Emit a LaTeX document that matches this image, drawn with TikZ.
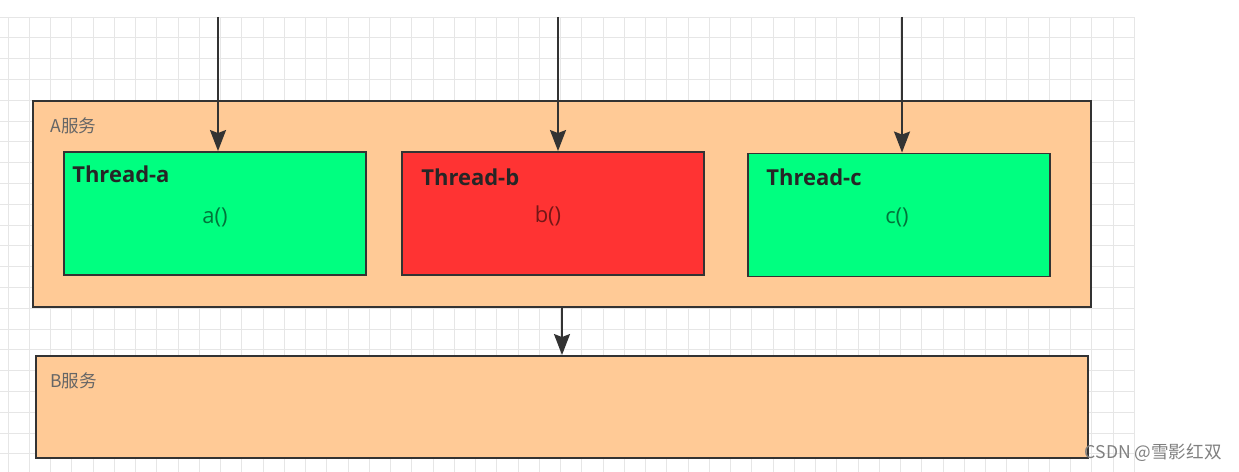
\documentclass[tikz,border=0pt]{standalone}
\usepackage{fontspec}
\setmainfont{Open Sans}
\newfontfamily\cjk{Noto Sans CJK SC}
\usetikzlibrary{arrows.meta}
\definecolor{peach}{HTML}{FFCA96}
\definecolor{threadgreen}{HTML}{00FF80}
\definecolor{threadred}{HTML}{FF3333}
\definecolor{edge}{HTML}{333333}
\definecolor{gridgray}{HTML}{E6E6E6}

\begin{document}
\begin{tikzpicture}[
    x=0.02cm, y=-0.02cm,
    service/.style={draw=edge, fill=peach, line width=1.1pt, inner sep=0pt},
    thread/.style={draw=edge, line width=1.1pt, minimum width=6.04cm, minimum height=2.46cm, inner sep=0pt},
    title/.style={anchor=base west, inner sep=0pt, font=\bfseries\fontsize{12.5}{14}\selectfont, text=black!85},
    call/.style={font=\fontsize{12.5}{14}\selectfont, text=black, text opacity=0.55},
    tag/.style={anchor=west, inner sep=0pt, font=\cjk\fontsize{10}{12}\selectfont, text=black!60},
    flow/.style={-{Stealth[length=4.2mm, width=3.2mm, inset=0.6mm]}, draw=edge, line width=1.1pt}
]
\useasboundingbox (0,0) rectangle (1239,472);

% background grid
\foreach \gx in {0,...,53}
  \draw[gridgray, line width=0.5pt] ({8+21.25*\gx},17) -- ({8+21.25*\gx},472);
\foreach \gy in {0,...,21}
  \draw[gridgray, line width=0.5pt] (0,{17+20.8*\gy}) -- (1135,{17+20.8*\gy});

% A service
\node[service, minimum width=21.16cm, minimum height=4.12cm] (asvc) at (562,204) {};
\node[tag] (alab) at (50,126) {A服务};

\node[thread, fill=threadgreen] (ta) at (215,213.5) {};
\node[thread, fill=threadred] (tb) at (553,213.5) {};
\node[thread, fill=threadgreen] (tc) at (899,215) {};

\node[title] (tatitle) at (72,183) {Thread-a};
\node[title] (tbtitle) at (421,186) {Thread-b};
\node[title] (tctitle) at (766,186) {Thread-c};

\node[call] (tacall) at (215,217) {a()};
\node[call] (tbcall) at (548,216) {b()};
\node[call] (tccall) at (897,217) {c()};

% B service
\node[service, minimum width=21.04cm, minimum height=2.04cm] (bsvc) at (562,407) {};
\node[tag] (blab) at (50,381) {B服务};

% incoming requests
\coordinate (ina) at (218,17);
\coordinate (inb) at (558,17);
\coordinate (inc) at (902,17);
\foreach \src/\dst in {ina/ta, inb/tb, inc/tc}
  \draw[flow] (\src) -- (\src |- \dst.north);
\draw[flow] (asvc.south) -- (bsvc.north);

\node[anchor=east, inner sep=0pt, font=\cjk\fontsize{10}{12}\selectfont, text=black!50] (mark) at (1222,453) {CSDN @雪影红双};
\end{tikzpicture}
\end{document}
